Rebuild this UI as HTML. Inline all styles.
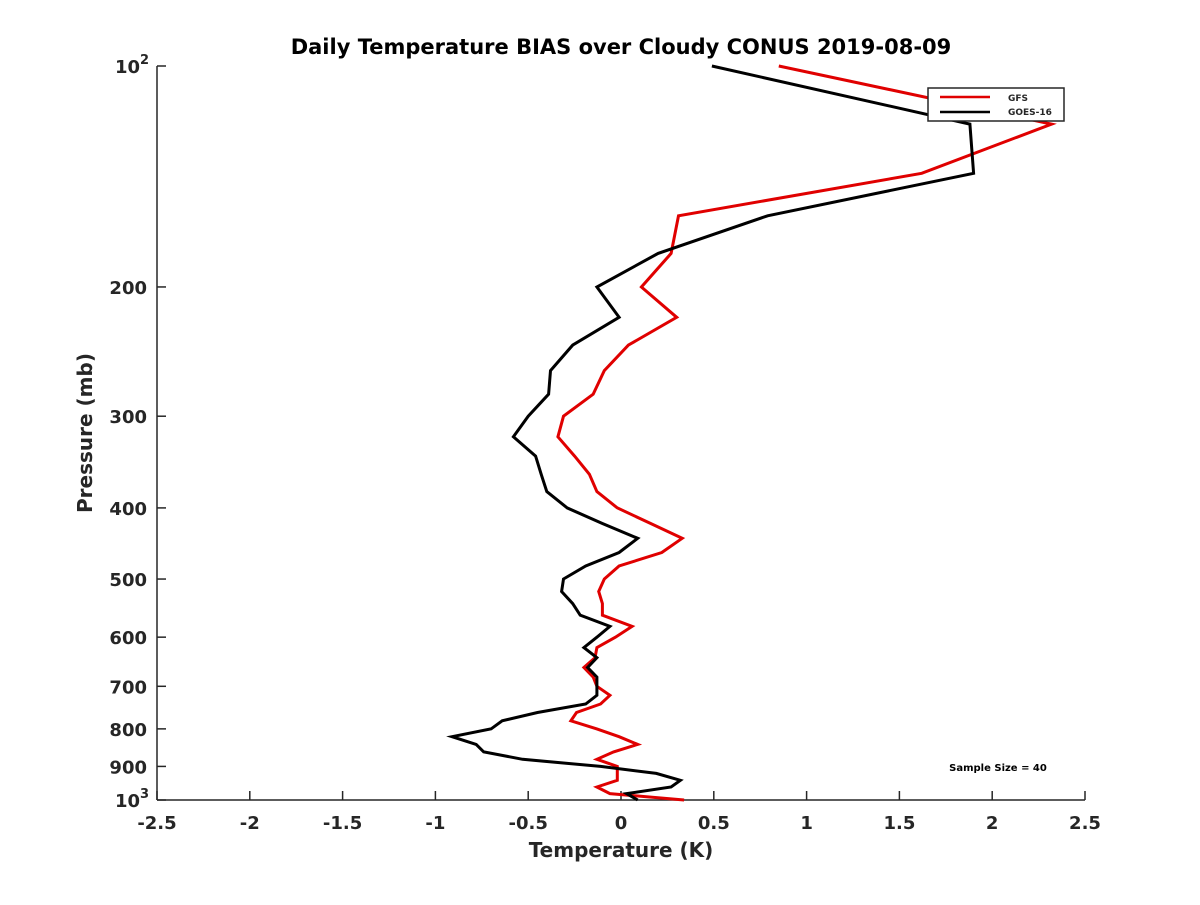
<!DOCTYPE html>
<html><head><meta charset="utf-8"><style>
body{margin:0;background:#fff}
svg text{font-family:"DejaVu Sans","Liberation Sans",sans-serif;font-weight:bold;fill:#262626}
</style></head><body>
<svg id="chart" width="1200" height="900" xmlns="http://www.w3.org/2000/svg">
<rect width="1200" height="900" fill="#fff"/>
<text x="621" y="54" text-anchor="middle" font-size="21" style="fill:#000">Daily Temperature BIAS over Cloudy CONUS 2019-08-09</text>
<g id="axes"></g>
<g id="series"></g>
<g>
<rect x="928" y="88" width="136" height="33" fill="#fff" stroke="#262626" stroke-width="1.5"/>
<line x1="940" y1="97" x2="990" y2="97" stroke="#e00000" stroke-width="2.5"/>
<text x="1008" y="101" font-size="9">GFS</text>
<line x1="940" y1="112" x2="990" y2="112" stroke="#000" stroke-width="2.5"/>
<text x="1008" y="115" font-size="9">GOES-16</text>
</g>
<text x="998" y="771" text-anchor="middle" font-size="10" style="fill:#000">Sample Size = 40</text>
<text x="621" y="857" text-anchor="middle" font-size="20">Temperature (K)</text>
<text transform="translate(92,433) rotate(-90)" text-anchor="middle" font-size="20">Pressure (mb)</text>
</svg>
<script>
const pressures=[100,120,140,160,180,200,220,240,260,280,300,320,340,360,380,400,420,440,460,480,500,520,540,560,580,600,620,640,660,680,700,720,740,760,780,800,820,840,860,880,900,920,940,960,980,1000];
const gfsBias=[0.85,2.32,1.62,0.31,0.27,0.11,0.30,0.04,-0.09,-0.15,-0.31,-0.34,-0.25,-0.17,-0.13,-0.02,0.16,0.33,0.22,-0.01,-0.09,-0.12,-0.10,-0.10,0.06,-0.03,-0.13,-0.14,-0.20,-0.15,-0.13,-0.06,-0.11,-0.24,-0.27,-0.13,-0.01,0.09,-0.04,-0.13,-0.02,-0.02,-0.02,-0.13,-0.06,0.34];
const goesBias=[0.49,1.88,1.90,0.79,0.20,-0.13,-0.01,-0.26,-0.38,-0.39,-0.50,-0.58,-0.46,-0.43,-0.40,-0.29,-0.10,0.09,-0.01,-0.19,-0.31,-0.32,-0.26,-0.22,-0.06,-0.13,-0.20,-0.13,-0.18,-0.13,-0.13,-0.13,-0.19,-0.45,-0.64,-0.70,-0.91,-0.78,-0.74,-0.53,-0.11,0.19,0.32,0.27,0.03,0.09];
const xTicks=[-2.5,-2,-1.5,-1,-0.5,0,0.5,1,1.5,2,2.5];
const xTickLabels=["-2.5","-2","-1.5","-1","-0.5","0","0.5","1","1.5","2","2.5"];
const yTicks=[100,200,300,400,500,600,700,800,900,1000];
const yTickLabels=["10^2","200","300","400","500","600","700","800","900","10^3"];
const NS="http://www.w3.org/2000/svg";
const X0=157,X1=1085,Y0=66,Y1=800;
const xs=v=>X0+(v+2.5)/5*(X1-X0);
const ys=p=>Y0+Math.log10(p/100)*(Y1-Y0);
function mk(tag,attrs,parent){const e=document.createElementNS(NS,tag);for(const k in attrs)e.setAttribute(k,attrs[k]);parent.appendChild(e);return e;}
const ax=document.getElementById('axes');
let l=mk('line',{x1:X0,y1:Y0,x2:X0,y2:Y1,stroke:'#262626','stroke-width':1.5},ax);


l=mk('line',{x1:X0,y1:Y1,x2:X1,y2:Y1,stroke:'#262626','stroke-width':1.5},ax);


xTicks.forEach((v,i)=>{
  const x=xs(v);
  const t=mk('line',{x1:x,y1:Y1,x2:x,y2:Y1-9,stroke:'#262626','stroke-width':1.5},ax);
  
  
  const tx=mk('text',{x:x,y:Y1+29,'text-anchor':'middle','font-size':18},ax);
  tx.textContent=xTickLabels[i];
  
  
});
yTicks.forEach((p,i)=>{
  const y=ys(p);
  const t=mk('line',{x1:X0,y1:y,x2:X0+9,y2:y,stroke:'#262626','stroke-width':1.5},ax);
  
  
  const lab=yTickLabels[i];
  const tx=mk('text',{x:X0-10,y:y+7,'text-anchor':'end','font-size':18},ax);
  
  
  if(lab.indexOf('^')>=0){
    const [b,e]=lab.split('^');
    tx.setAttribute('x',X0-17);
    tx.textContent=b;
    const s=mk('text',{x:X0-8,y:y-2,'text-anchor':'end','font-size':13},ax);
    s.textContent=e;
    
    
  } else tx.textContent=lab;
});
const sg=document.getElementById('series');
function drawLine(vals,color,name){
  const pts=vals.map((v,i)=>xs(v).toFixed(1)+','+ys(pressures[i]).toFixed(1)).join(' ');
  const pl=mk('polyline',{points:pts,fill:'none',stroke:color,'stroke-width':3,'stroke-linejoin':'miter'},sg);
  
  
}
drawLine(gfsBias,'#e00000','gfs-line');
drawLine(goesBias,'#000000','goes16-line');
</script>
</body></html>
